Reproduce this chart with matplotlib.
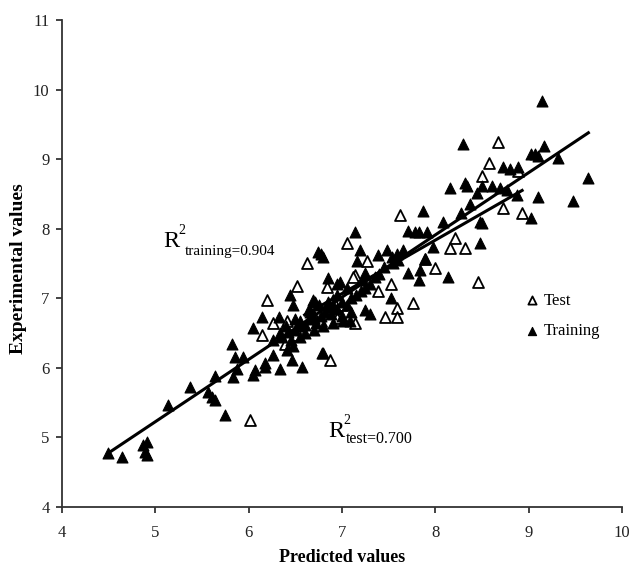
import matplotlib
matplotlib.use("Agg")
import matplotlib.pyplot as plt
import numpy as np

# Training set (predicted, experimental)
train_pred = [4.49, 4.64, 4.87, 4.91, 4.89, 4.91, 5.14, 5.37, 5.56, 5.61, 5.64, 5.75, 5.64,
              5.82, 5.85, 5.83, 5.94, 5.88, 6.05, 6.14, 6.07, 6.05, 6.18, 6.26, 6.34, 6.32,
              6.41, 6.46, 6.48, 6.34, 6.44, 6.48, 6.69, 6.74, 6.80, 6.98, 6.85, 6.66, 6.26,
              6.79, 6.55, 6.71, 6.95, 6.87, 7.14, 7.19, 7.39, 7.48, 7.59, 7.71, 7.82, 7.91,
              7.71, 7.84, 7.82, 7.89, 7.52, 7.25, 7.30, 6.77, 8.16, 8.32, 8.50, 8.61, 8.72,
              8.80, 8.89, 8.69, 8.77, 8.88, 8.45, 8.37, 8.27, 8.08, 7.87, 7.78, 7.65, 7.98,
              8.48, 8.48, 8.14, 9.02, 9.14, 8.30, 9.16, 9.02, 9.07, 9.10, 9.31, 9.64, 9.47,
              9.10, 8.50, 8.34, 7.16, 7.25, 7.54, 7.01, 7.09, 7.23, 6.18, 6.57,
              6.35, 6.42, 6.50, 6.55, 6.60, 6.65, 6.70, 6.72, 6.78, 6.82, 6.88, 6.90, 6.95,
              7.00, 7.05, 7.10, 7.15, 7.20, 7.25, 7.30, 6.60, 6.70, 6.75, 6.85, 6.95, 7.05,
              7.35, 7.40, 7.45, 7.55, 7.60, 6.45, 6.55, 6.65, 6.80, 6.90, 7.00, 7.10, 6.50,
              6.40, 6.80]
train_exp = [4.77, 4.72, 4.89, 4.93, 4.79, 4.75, 5.46, 5.72, 5.65, 5.58, 5.54, 5.32, 5.89,
             6.35, 6.15, 5.87, 6.15, 5.99, 6.57, 6.73, 5.97, 5.90, 6.07, 6.18, 5.99, 6.73,
             6.25, 6.11, 6.32, 6.50, 7.04, 6.90, 6.97, 7.66, 7.59, 7.23, 7.29, 6.80, 6.40,
             6.21, 6.68, 6.94, 7.21, 6.87, 7.95, 7.69, 7.62, 7.69, 7.64, 7.97, 7.95, 7.95,
             7.37, 7.40, 7.26, 7.57, 7.00, 6.83, 6.78, 7.64, 8.58, 8.65, 8.62, 8.62, 8.88,
             8.86, 8.88, 8.58, 8.55, 8.48, 8.51, 8.36, 8.23, 8.09, 8.26, 7.95, 7.69, 7.73,
             8.09, 7.80, 7.30, 8.16, 9.84, 9.22, 9.19, 9.08, 9.08, 9.05, 9.01, 8.73, 8.40,
             8.45, 8.08, 8.62, 7.54, 7.37, 7.59, 6.68, 6.68, 7.26, 6.01, 6.01,
             6.45, 6.52, 6.55, 6.60, 6.62, 6.70, 6.72, 6.65, 6.75, 6.80, 6.78, 6.90, 6.85,
             6.95, 6.90, 7.00, 7.05, 7.10, 7.15, 7.20, 6.50, 6.55, 6.90, 6.95, 7.05, 7.15,
             7.30, 7.35, 7.45, 7.50, 7.55, 6.40, 6.45, 6.85, 6.60, 6.65, 6.75, 6.80, 6.70,
             6.60, 6.22]

# Test set (predicted, experimental)
test_pred = [6.01, 6.20, 6.14, 6.52, 6.50, 6.39, 7.05, 6.63, 6.26, 6.41, 6.84, 6.87, 6.95,
             7.27, 7.14, 6.90, 7.52, 7.39, 7.76, 7.59, 7.46, 7.59, 7.14, 7.12, 7.62, 7.89,
             8.00, 8.16, 8.32, 8.21, 8.46, 8.73, 8.93, 8.67, 8.57, 8.50, 8.89, 6.37, 6.55,
             6.70, 6.78, 7.00]
test_exp = [5.25, 6.97, 6.47, 7.17, 6.47, 6.35, 7.79, 7.50, 6.64, 6.68, 7.16, 6.11, 6.71,
            7.54, 7.33, 6.97, 7.21, 7.11, 6.93, 6.86, 6.73, 6.73, 6.65, 7.30, 8.19, 7.57,
            7.43, 7.72, 7.72, 7.86, 7.23, 8.30, 8.22, 9.24, 8.95, 8.76, 8.83, 6.54, 6.62,
            6.75, 6.68, 6.90]

# fitted lines: slope, intercept, x range
train_fit = [0.895, 0.751, 4.49, 9.64]
test_fit = [0.768, 1.692, 6.60, 8.93]

x_ticks = [4, 5, 6, 7, 8, 9, 10]
y_ticks = [4, 5, 6, 7, 8, 9, 10, 11]

plt.rcParams['font.family'] = ['Liberation Serif', 'DejaVu Serif']

fig = plt.figure(figsize=(6.31, 5.68), dpi=100)
ax = fig.add_axes([0.0983, 0.1074, 0.8874, 0.8574])

ax.scatter(test_pred, test_exp, marker='^', s=62, facecolor='white', edgecolor='black',
           linewidth=1.3, label='Test', zorder=3)
ax.scatter(train_pred, train_exp, marker='^', s=62, facecolor='black', edgecolor='black',
           linewidth=0.8, label='Training', zorder=3)

for fit in (train_fit, test_fit):
    xs = np.array(fit[2:])
    ax.plot(xs, fit[0] * xs + fit[1], color='black', linewidth=2.2, zorder=4)

ax.set_xlim(4, 10)
ax.set_ylim(4, 11)
ax.set_xticks(x_ticks)
ax.set_yticks(y_ticks)
ax.tick_params(direction='out', length=4, width=1.2, labelsize=12, colors='#222222')
ax.tick_params(axis='x', pad=9)
ax.tick_params(axis='y', pad=5)
for side in ('top', 'right'):
    ax.spines[side].set_visible(False)
for side in ('left', 'bottom'):
    ax.spines[side].set_linewidth(1.3)
    ax.spines[side].set_color('#333333')

ax.set_xlabel('Predicted values', fontsize=13, fontweight='bold', labelpad=6)
ax.set_ylabel('Experimental values', fontsize=14, fontweight='bold')
ax.yaxis.set_label_coords(-0.062, 0.49)

# R^2 annotations
ax.annotate('R', xy=(5.08, 7.73), fontsize=17.5, ha='left', va='baseline')
ax.annotate('2', xy=(5.08, 7.73), xytext=(11, 10), textcoords='offset points', fontsize=10,
            va='baseline')
ax.annotate('training=0.904', xy=(5.08, 7.73), xytext=(16, -5.5), textcoords='offset points',
            fontsize=11, va='baseline')
ax.annotate('R', xy=(6.85, 5.0), fontsize=17.5, ha='left', va='baseline')
ax.annotate('2', xy=(6.85, 5.0), xytext=(11, 10), textcoords='offset points', fontsize=10,
            va='baseline')
ax.annotate('test=0.700', xy=(6.85, 5.0), xytext=(12.5, -4), textcoords='offset points',
            fontsize=11.5, va='baseline')

ax.legend(loc='upper left', bbox_to_anchor=(0.825, 0.44), frameon=False, fontsize=12,
          handlelength=1.0, handletextpad=0.2, labelspacing=0.85, markerscale=0.75,
          borderaxespad=0, borderpad=0)

fig.savefig('out.png', dpi=100)
